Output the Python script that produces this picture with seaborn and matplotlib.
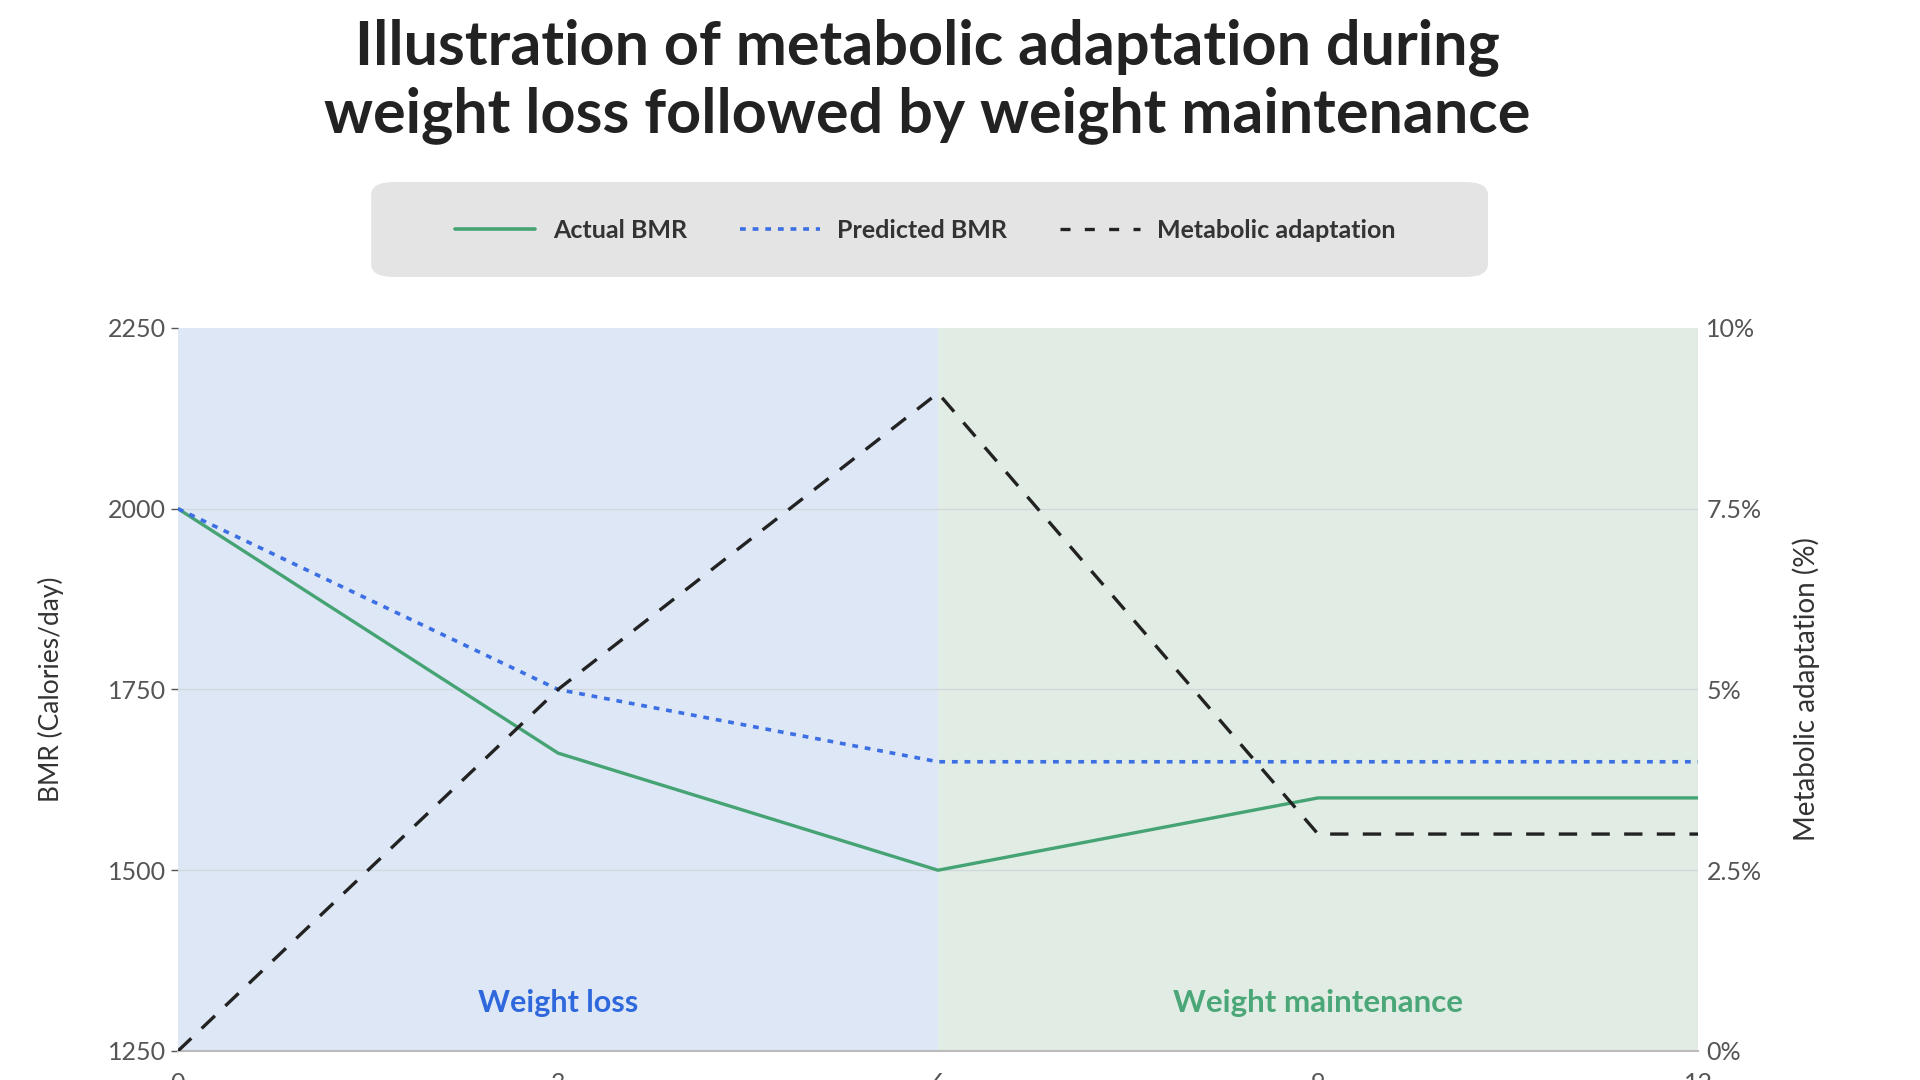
"""
Metabolic adaptation during weight loss followed by weight maintenance
"""
import numpy as np
import pandas as pd
import matplotlib
matplotlib.use('Agg')
import matplotlib.pyplot as plt
import matplotlib.ticker as mtick
from matplotlib.lines import Line2D
from matplotlib.patches import FancyBboxPatch
import seaborn as sns

# data (months)
months = [0, 3, 6, 9, 12]
actual_bmr = [2000, 1662, 1500, 1600, 1600]
predicted_bmr = [2000, 1750, 1650, 1650, 1650]
adaptation_pct = [0, 5.0, 9.1, 3.0, 3.0]

phases = ['Weight loss', 'Weight maintenance']
phase_start = [0, 6]
phase_end = [6, 12]

y_ticks = [1250, 1500, 1750, 2000, 2250]
y2_ticks = [0, 2.5, 5, 7.5, 10]
x_ticks = [0, 3, 6, 9, 12]

colors = {'actual': '#45a374', 'predicted': '#3b6fe3', 'adapt': '#222222',
          'loss_bg': '#dee7f6', 'maint_bg': '#e0ece4',
          'loss_txt': '#2f68dc', 'maint_txt': '#4ba777'}

df = pd.DataFrame({'month': months, 'actual': actual_bmr,
                   'predicted': predicted_bmr, 'adapt': adaptation_pct})

sns.set_theme(style='white')
plt.rcParams['font.family'] = ['Lato', 'DejaVu Sans']

fig = plt.figure(figsize=(19.2, 10.8), dpi=100)
ax = fig.add_axes([0.0927, 0.0269, 0.7917, 0.6694])

# background phases
ax.axvspan(phase_start[0], phase_end[0], color=colors['loss_bg'], lw=0, zorder=0)
ax.axvspan(phase_start[1], phase_end[1], color=colors['maint_bg'], lw=0, zorder=0)

for yt in y_ticks[1:-1]:
    ax.axhline(yt, color='#d3d8de', lw=1.0, zorder=1)

sns.lineplot(data=df, x='month', y='actual', ax=ax, color=colors['actual'], lw=2.4, zorder=3)
sns.lineplot(data=df, x='month', y='predicted', ax=ax, color=colors['predicted'], lw=2.6,
             linestyle=(0, (1.6, 1.9)), zorder=3)

ax.set_xlim(0, 12)
ax.set_ylim(1250, 2250)
ax.set_xticks(x_ticks)
ax.set_yticks(y_ticks)
ax.tick_params(axis='both', labelsize=18, colors='#555555', length=5, width=1, direction='out')
ax.tick_params(axis='x', pad=10)
ax.set_xlabel('')
ax.set_ylabel('BMR (Calories/day)', fontsize=19, color='#333333', labelpad=32)
for s in ['top', 'right', 'left']:
    ax.spines[s].set_visible(False)
ax.spines['bottom'].set_color('#bbbbbb')
ax.spines['bottom'].set_linewidth(1.5)

ax.text(3, 1316, phases[0], ha='center', va='center', fontsize=22, fontweight='bold',
        color=colors['loss_txt'], zorder=4)
ax.text(9, 1316, phases[1], ha='center', va='center', fontsize=22.5, fontweight='bold',
        color=colors['maint_txt'], zorder=4)

ax2 = ax.twinx()
sns.lineplot(data=df, x='month', y='adapt', ax=ax2, color=colors['adapt'], lw=2.4,
             linestyle=(0, (5.5, 4.3)), zorder=3)
ax2.set_ylim(0, 10)
ax2.set_yticks(y2_ticks)
ax2.yaxis.set_major_formatter(mtick.FuncFormatter(lambda v, p: f'{v:g}%'))
ax2.tick_params(axis='y', labelsize=18, colors='#555555', length=0, pad=6)
ax2.set_ylabel('Metabolic adaptation (%)', fontsize=20, color='#333333', labelpad=22)
for s in ['top', 'right', 'left', 'bottom']:
    ax2.spines[s].set_visible(False)

# legend
bg = FancyBboxPatch((0.1993, 0.7495), 0.5697, 0.076,
                    boxstyle='round,pad=0.006,rounding_size=0.012',
                    transform=fig.transFigure, facecolor='#e4e4e4', edgecolor='none')
fig.patches.append(bg)
handles = [Line2D([0], [0], color=colors['actual'], lw=2.6),
           Line2D([0], [0], color=colors['predicted'], lw=2.6, linestyle=(0, (1.6, 1.9))),
           Line2D([0], [0], color=colors['adapt'], lw=2.4, linestyle=(0, (3.0, 4.3)))]
labels = ['Actual BMR', 'Predicted BMR', 'Metabolic adaptation']
leg = fig.legend(handles, labels, loc='center', bbox_to_anchor=(0.482, 0.787), ncol=3,
                 frameon=False, fontsize=18, handlelength=3.2, handletextpad=0.7,
                 columnspacing=2.1)
for t in leg.get_texts():
    t.set_color('#333333')
    t.set_fontweight('bold')

fig.text(0.483, 0.925, 'Illustration of metabolic adaptation during\nweight loss followed by weight maintenance',
         ha='center', va='center', fontsize=44, fontweight='bold', color='#222222', linespacing=1.22)

fig.savefig('out.png', dpi=100)
